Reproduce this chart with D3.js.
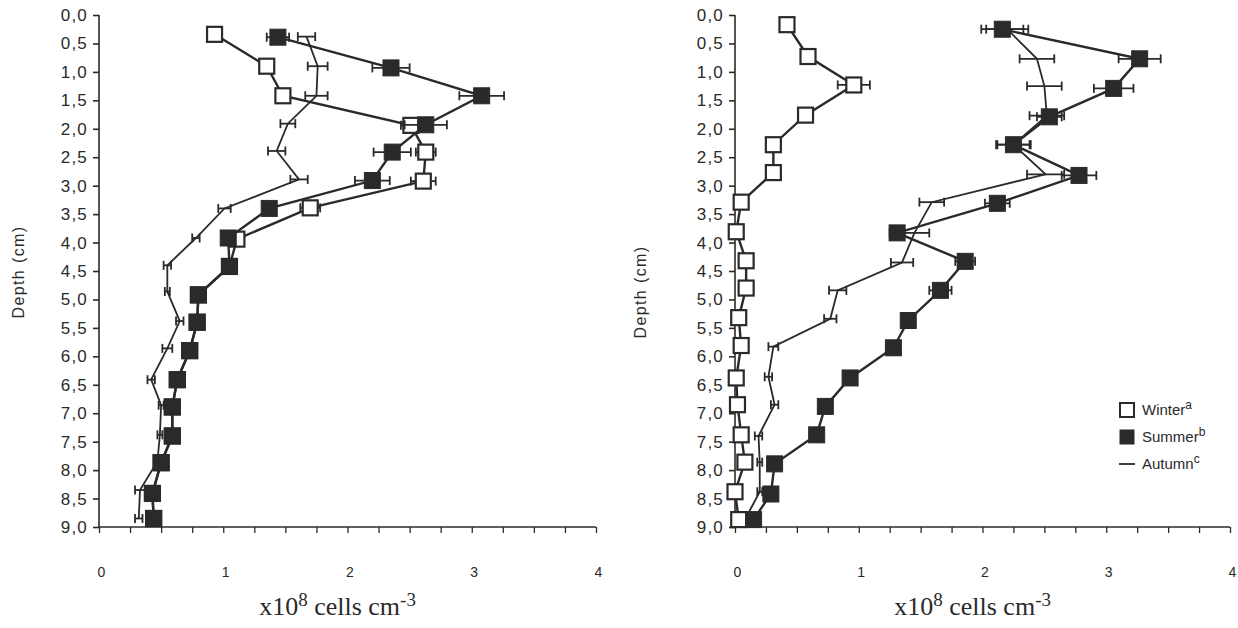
<!DOCTYPE html>
<html>
<head>
<meta charset="utf-8">
<script src="https://cdn.jsdelivr.net/npm/d3@7"></script>
<style>
body { margin:0; background:#fff; }
text { fill:#2a2a2a; }
</style>
</head>
<body>
<script>
var w = 1238;
var h = 628;

// depth of each sample (cm), read per series because the markers sit a bit apart
var depthL_W = [0.34,0.90,1.42,1.94,2.41,2.92,3.39,3.94,4.42,4.92,5.40,5.90,6.41,6.89,7.40,7.87,8.41,8.85];
var depthL_S = [0.39,0.93,1.42,1.93,2.41,2.91,3.40,3.92,4.42,4.92,5.40,5.90,6.41,6.89,7.40,7.87,8.41,8.85];
var depthL_A = [0.38,0.90,1.42,1.91,2.39,2.89,3.40,3.92,4.40,4.86,5.38,5.86,6.41,6.86,7.38,7.85,8.35,8.85];

// left panel, x10^8 cells cm-3 (winter sits behind summer below 4 cm)
var winterL = [0.93,1.35,1.48,2.51,2.63,2.61,1.70,1.11,1.05,0.80,0.79,0.73,0.63,0.59,0.59,0.50,0.43,0.44];
var summerL = [1.44,2.35,3.08,2.63,2.36,2.20,1.37,1.04,1.05,0.80,0.79,0.73,0.63,0.59,0.59,0.50,0.43,0.44];
var autumnL = [1.67,1.76,1.75,1.52,1.43,1.61,1.01,0.78,0.55,0.55,0.65,0.55,0.42,0.50,0.49,0.47,0.33,0.32];
var errL_W = [0,0,0,0.08,0.08,0.10,0.08,0,0,0,0,0,0,0,0,0,0,0];
var errL_S = [0.09,0.15,0.18,0.17,0.15,0.14,0.05,0,0,0,0,0,0,0,0,0,0,0];
var errL_A = [0.07,0.08,0.09,0.06,0.07,0.07,0.05,0.03,0.03,0.02,0.03,0.04,0.03,0.02,0.02,0.02,0.04,0.03];

// right panel
var depthR_W = [0.17,0.73,1.23,1.76,2.28,2.77,3.29,3.81,4.32,4.80,5.32,5.81,6.38,6.85,7.38,7.86,8.38,8.87];
var depthR_S = [0.25,0.77,1.29,1.79,2.28,2.82,3.31,3.83,4.33,4.84,5.37,5.85,6.38,6.88,7.38,7.89,8.42,8.87];
var depthR_A = [0.25,0.77,1.25,1.77,2.28,2.80,3.29,3.83,4.35,4.84,5.34,5.83,6.36,6.85,7.40,7.86,8.38,8.87];
var winterR = [0.42,0.59,0.96,0.57,0.31,0.31,0.05,0.01,0.09,0.09,0.03,0.05,0.01,0.02,0.05,0.08,0.00,0.03];
var summerR = [2.16,3.27,3.06,2.54,2.25,2.78,2.12,1.31,1.86,1.66,1.40,1.28,0.93,0.73,0.66,0.32,0.29,0.15];
var autumnR = [2.20,2.44,2.50,2.52,2.25,2.51,1.59,1.45,1.35,0.83,0.77,0.31,0.27,0.32,0.19,0.20,0.20,0.08];
var errR_W = [0,0,0.13,0,0,0,0,0,0,0,0,0,0,0,0,0,0,0];
var errR_S = [0.17,0.17,0.16,0.10,0.14,0.14,0.10,0.06,0.08,0.09,0,0,0,0,0,0,0,0];
var errR_A = [0.17,0.14,0.14,0.14,0.13,0.15,0.10,0.12,0.09,0.07,0.05,0.04,0.03,0.03,0.03,0.02,0.02,0.02];

var depthTicks = d3.range(0, 9.01, 0.5);
var cellTicks = d3.range(0, 4.01, 0.25);
var legendNames = ["Winter","Summer","Autumn"];
var legendSup = ["a","b","c"];

var ink = "#2a2a2a";
var sans = "Liberation Sans, Arial, sans-serif";

var svg = d3.select("body").append("svg")
    .attr("width", w)
    .attr("height", h);

function zip(xs, ys, es) {
    return xs.map(function(v, i){ return {x:v, d:ys[i], e:es[i]}; });
}

// titleX / titleY: where the rotated "Depth (cm)" sits
function panel(left, right, titleX, titleY, winter, summer, autumn) {
    var x = d3.scaleLinear().domain([0,4]).range([left, right]);
    var y = d3.scaleLinear().domain([0,9]).range([15, 527]);
    var g = svg.append("g");

    // axes
    var yAxis = d3.axisLeft(y).tickValues(depthTicks).tickSize(6).tickPadding(5)
        .tickFormat(function(d){ return d3.format(".1f")(d).replace(".", ","); });
    var ya = g.append("g").attr("transform","translate("+left+",0)").call(yAxis);
    ya.select(".domain").attr("d","M0,"+y(0)+"V"+y(9)).attr("stroke",ink).attr("stroke-width",1.6);
    ya.selectAll("line").attr("stroke",ink).attr("stroke-width",1.6);
    ya.selectAll("text").attr("font-family",sans)
        .attr("font-size",17).attr("letter-spacing",1.2).style("fill",ink);

    var xAxis = d3.axisBottom(x).tickValues(cellTicks).tickSize(6).tickPadding(34)
        .tickFormat(function(d){ return d % 1 === 0 ? d : ""; });
    var xa = g.append("g").attr("transform","translate(0,"+y(9)+")").call(xAxis);
    xa.select(".domain").attr("d","M"+left+",0H"+right).attr("stroke",ink).attr("stroke-width",1.6);
    xa.selectAll("line").attr("stroke",ink).attr("stroke-width",1.3);
    xa.selectAll("text").attr("dx",2).attr("font-family",sans)
        .attr("font-size",14).style("fill",ink);

    var line = d3.line().x(function(p){ return x(p.x); }).y(function(p){ return y(p.d); });

    function errorBars(data, cap) {
        var eb = g.append("g").attr("stroke",ink).attr("stroke-width",1.8);
        data.filter(function(p){ return p.e > 0; }).forEach(function(p){
            eb.append("line").attr("x1",x(p.x-p.e)).attr("x2",x(p.x+p.e)).attr("y1",y(p.d)).attr("y2",y(p.d));
            eb.append("line").attr("x1",x(p.x-p.e)).attr("x2",x(p.x-p.e)).attr("y1",y(p.d)-cap).attr("y2",y(p.d)+cap);
            eb.append("line").attr("x1",x(p.x+p.e)).attr("x2",x(p.x+p.e)).attr("y1",y(p.d)-cap).attr("y2",y(p.d)+cap);
        });
    }

    // autumn: plain line with error bars
    g.append("path").datum(autumn).attr("d",line).attr("fill","none").attr("stroke",ink).attr("stroke-width",1.8);
    errorBars(autumn, 4.5);

    // winter: open squares
    g.append("path").datum(winter).attr("d",line).attr("fill","none").attr("stroke",ink).attr("stroke-width",2.4);
    errorBars(winter, 4.5);
    g.append("g").selectAll("rect").data(winter).enter().append("rect")
        .attr("x",function(p){ return x(p.x)-7.5; })
        .attr("y",function(p){ return y(p.d)-7.5; })
        .attr("width",15).attr("height",15)
        .attr("fill","#fff").attr("stroke",ink).attr("stroke-width",2.2);

    // summer: filled squares
    g.append("path").datum(summer).attr("d",line).attr("fill","none").attr("stroke",ink).attr("stroke-width",2.4);
    errorBars(summer, 4.5);
    g.append("g").selectAll("rect").data(summer).enter().append("rect")
        .attr("x",function(p){ return x(p.x)-8; })
        .attr("y",function(p){ return y(p.d)-8; })
        .attr("width",16).attr("height",16)
        .attr("fill",ink).attr("stroke",ink).attr("stroke-width",1);

    // axis titles
    g.append("text")
        .attr("transform","translate("+titleX+","+titleY+") rotate(-90)")
        .attr("text-anchor","middle")
        .attr("font-family",sans)
        .attr("font-size",16).attr("letter-spacing",1.4)
        .text("Depth (cm)");

    var t = g.append("text")
        .attr("x", x(1.92)).attr("y", 615)
        .attr("text-anchor","middle")
        .attr("font-family","Liberation Serif, Times New Roman, serif")
        .attr("font-size",26);
    t.append("tspan").text("x10");
    t.append("tspan").attr("dy",-9).attr("font-size",19).text("8");
    t.append("tspan").attr("dy",9).text(" cells cm");
    t.append("tspan").attr("dy",-9).attr("font-size",19).text("-3");
}

panel(99, 596, 24, 272,
    zip(winterL, depthL_W, errL_W),
    zip(summerL, depthL_S, errL_S),
    zip(autumnL, depthL_A, errL_A));

panel(735, 1230, 646, 292,
    zip(winterR, depthR_W, errR_W),
    zip(summerR, depthR_S, errR_S),
    zip(autumnR, depthR_A, errR_A));

// legend
var legY = d3.scaleOrdinal().domain(legendNames).range([410, 437, 464]);
var legend = svg.append("g");
legendNames.forEach(function(name, i){
    var cy = legY(name);
    if (i === 0) {
        legend.append("rect").attr("x",1120).attr("y",cy-7).attr("width",14).attr("height",14)
            .attr("fill","#fff").attr("stroke",ink).attr("stroke-width",2);
    } else if (i === 1) {
        legend.append("rect").attr("x",1119.5).attr("y",cy-7.5).attr("width",15).attr("height",15)
            .attr("fill",ink);
    } else {
        legend.append("line").attr("x1",1119).attr("x2",1135).attr("y1",cy).attr("y2",cy)
            .attr("stroke",ink).attr("stroke-width",1.8);
    }
    var tx = legend.append("text").attr("x",1142).attr("y",cy+5)
        .attr("font-family",sans).attr("font-size",15);
    tx.append("tspan").text(name);
    tx.append("tspan").attr("dy",-6).attr("font-size",12).text(legendSup[i]);
});
</script>
</body>
</html>
